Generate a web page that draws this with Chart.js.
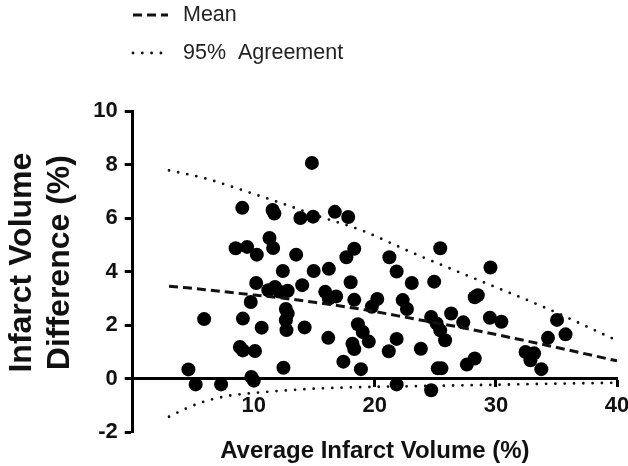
<!DOCTYPE html>
<html>
<head>
<meta charset="utf-8">
<script src="https://cdn.jsdelivr.net/npm/chart.js@4.4.1/dist/chart.umd.min.js"></script>
<style>
  html, body { margin: 0; padding: 0; background: #fff; }
</style>
</head>
<body>
<canvas id="chart" width="628" height="466"></canvas>
<script>
// scatter: average infarct volume (x) vs difference (y)
const avgVolume = [
  4.6, 5.2, 5.9, 7.3, 8.5, 9.05, 9.45, 8.85, 9.1, 9.1,
  9.75, 9.8, 10.0, 10.1, 10.2, 10.25, 10.65, 11.3, 11.6, 11.55,
  11.7, 11.2, 11.75, 12.1, 12.8, 12.4, 12.65, 12.8, 12.65, 12.7,
  12.45, 13.5, 13.85, 14.0, 14.2, 14.8, 14.9, 14.95, 15.9, 16.2,
  16.15, 16.2, 16.8, 16.7, 17.4, 17.65, 17.8, 18.0, 18.3, 18.3,
  18.6, 19.0, 19.5, 18.15, 18.3, 18.85, 20.2, 19.75, 21.2, 21.8,
  21.8, 21.15, 21.8, 22.3, 22.65, 23.05, 23.8, 24.65, 25.1, 25.4,
  24.65, 24.9, 25.4, 25.8, 26.3, 25.2, 25.5, 27.3, 27.6, 28.25,
  28.25, 28.5, 29.55, 29.5, 30.45, 32.45, 33.15, 32.85, 33.75, 34.3,
  35.05, 35.75
];
const volumeDiff = [
  0.34, -0.22, 2.22, -0.22, 4.87, 6.38, 4.92, 1.18, 1.05, 2.24,
  2.86, 0.06, -0.08, 1.03, 3.57, 4.63, 1.9, 5.25, 4.88, 6.3,
  6.17, 3.3, 3.42, 3.25, 3.28, 4.02, 2.6, 2.43, 2.18, 1.81,
  0.4, 4.63, 6.0, 3.49, 1.91, 8.06, 6.05, 4.02, 3.24, 4.1,
  1.52, 2.99, 3.07, 6.23, 0.63, 4.53, 6.04, 3.6, 4.85, 2.94,
  2.03, 1.74, 1.38, 1.3, 1.1, 0.35, 2.97, 2.68, 4.53, 4.0,
  1.48, 1.02, -0.22, 2.93, 2.6, 3.57, 1.11, 2.3, 2.06, 1.8,
  -0.44, 3.62, 4.87, 1.43, 2.43, 0.38, 0.38, 2.1, 0.52, 0.75,
  3.04, 3.11, 4.15, 2.27, 2.12, 0.99, 0.94, 0.68, 0.35, 1.52,
  2.19, 1.65
];

// bias line and 95% limits of agreement
const curveX     = [3, 4.5, 6, 8, 10, 12.5, 15, 19, 23, 28, 34, 40];
const meanLine   = [3.45, 3.39, 3.32, 3.22, 3.12, 3.0, 2.85, 2.58, 2.25, 1.83, 1.26, 0.66];
const upperLimit = [7.78, 7.64, 7.48, 7.2, 6.9, 6.52, 6.12, 5.52, 4.72, 3.78, 2.66, 1.42];
const lowerLimit = [-1.43, -1.1, -0.85, -0.64, -0.54, -0.45, -0.38, -0.32, -0.29, -0.25, -0.2, -0.16];

const FONT = "'Liberation Sans', Arial, sans-serif";
Chart.defaults.font.family = FONT;

const toPoints = (xs, ys) => xs.map((x, i) => ({ x: x, y: ys[i] }));

// little legend in the top-left corner, drawn from the line datasets
const legendLines = {
    id: "legendLines",
    afterDraw(chart) {
        const ctx = chart.ctx;
        let y = 15;
        chart.data.datasets.forEach(ds => {
            if (!ds.legendText) return;
            ctx.save();
            ctx.strokeStyle = ds.borderColor;
            ctx.lineWidth   = ds.borderWidth;
            ctx.lineCap     = ds.borderCapStyle || "butt";
            ctx.setLineDash(ds.borderDash || []);
            ctx.beginPath();
            ctx.moveTo(133, y);
            ctx.lineTo(168, y);
            ctx.stroke();
            ctx.setLineDash([]);
            ctx.fillStyle    = "#222";
            ctx.font         = "21.5px " + FONT;
            ctx.textBaseline = "middle";
            ctx.fillText(ds.legendText, 183, y);
            ctx.restore();
            y += 38;
        });
    }
};

const dotted = {
    type: "line",
    borderColor: "#111",
    borderWidth: 2.8,
    borderDash: [0, 9.3],
    borderCapStyle: "round",
    pointRadius: 0,
    fill: false,
    cubicInterpolationMode: "monotone",
};

new Chart(document.getElementById("chart"), {
    type: "scatter",
    data: {
        datasets: [
            {
                type: "line",
                data: toPoints(curveX, meanLine),
                borderColor: "#111",
                borderWidth: 3,
                borderDash: [9, 5],
                pointRadius: 0,
                fill: false,
                cubicInterpolationMode: "monotone",
                legendText: "Mean",
            },
            Object.assign({}, dotted, { data: toPoints(curveX, upperLimit), legendText: "95%  Agreement" }),
            Object.assign({}, dotted, { data: toPoints(curveX, lowerLimit) }),
            {
                data: toPoints(avgVolume, volumeDiff),
                backgroundColor: "#000",
                borderColor: "#000",
                borderWidth: 0,
                pointRadius: 7,
                pointHoverRadius: 7,
            },
        ],
    },
    options: {
        responsive: false,
        animation: false,
        layout: { padding: { top: 111, right: 11, left: 0, bottom: 34 } },
        plugins: {
            legend: { display: false },
            tooltip: { enabled: false },
        },
        scales: {
            x: {
                type: "linear",
                min: 0,
                max: 40,
                position: { y: 0 },
                afterFit: s => { s.height = 34; s.paddingRight = 11; s.paddingLeft = 0; },
                ticks: {
                    stepSize: 10,
                    padding: 7,
                    color: "#111",
                    font: { size: 22, weight: "bold" },
                    callback: v => (v === 0 ? "" : v),
                },
                grid: { drawOnChartArea: false, drawTicks: true, tickLength: 7, tickWidth: 3, tickColor: "#000" },
                border: { display: true, color: "#000", width: 3 },
                title: {
                    display: true,
                    text: "Average Infarct Volume (%)",
                    color: "#111",
                    font: { size: 24, weight: "bold" },
                    padding: { top: 0, bottom: -53 },
                },
            },
            y: {
                min: -2,
                max: 10,
                ticks: {
                    stepSize: 2,
                    padding: 7,
                    color: "#111",
                    font: { size: 22, weight: "bold" },
                },
                grid: { drawOnChartArea: false, drawTicks: true, tickLength: 8, tickWidth: 3, tickColor: "#000" },
                border: { display: true, color: "#000", width: 3 },
                title: {
                    display: true,
                    text: ["  Infarct Volume", "  Difference (%)"],
                    color: "#111",
                    font: { size: 32, weight: "bold", lineHeight: 1.16 },
                    padding: { top: 4, bottom: 8 },
                },
            },
        },
    },
    plugins: [legendLines],
});
</script>
</body>
</html>
